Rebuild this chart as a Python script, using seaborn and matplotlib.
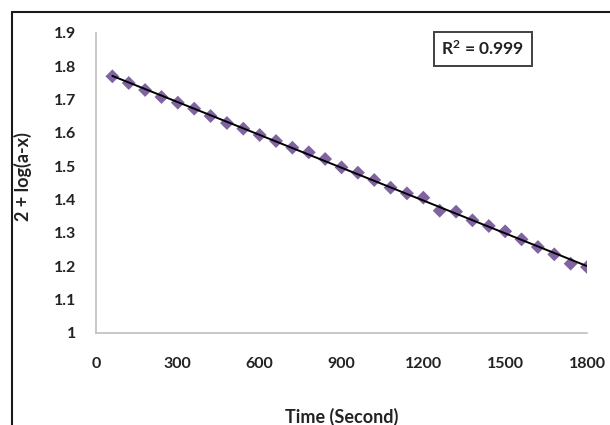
import matplotlib
matplotlib.use("Agg")
import matplotlib.pyplot as plt
from matplotlib.lines import Line2D
import seaborn as sns
import pandas as pd

# ---- data ----
time_s = [60, 120, 180, 240, 300, 360, 420, 480, 540, 600,
          660, 720, 780, 840, 900, 960, 1020, 1080, 1140, 1200,
          1260, 1320, 1380, 1440, 1500, 1560, 1620, 1680, 1740, 1800]
log_val = [1.770, 1.750, 1.729, 1.708, 1.691, 1.673, 1.651, 1.630, 1.613, 1.594,
           1.576, 1.556, 1.542, 1.522, 1.497, 1.481, 1.459, 1.436, 1.419, 1.406,
           1.367, 1.364, 1.338, 1.321, 1.305, 1.281, 1.258, 1.236, 1.208, 1.198]
x_ticks = [0, 300, 600, 900, 1200, 1500, 1800]
y_ticks = [1.0, 1.1, 1.2, 1.3, 1.4, 1.5, 1.6, 1.7, 1.8, 1.9]
y_tick_labels = ["1", "1.1", "1.2", "1.3", "1.4", "1.5", "1.6", "1.7", "1.8", "1.9"]
r2_text = r"R$^{\mathbf{2}}$ = 0.999"
x_label = "Time (Second)"
y_label = "2 + log(a-x)"

df = pd.DataFrame({"t": time_s, "v": log_val})

sns.set_theme(style="white")
plt.rcParams["font.family"] = ["Lato", "DejaVu Sans"]
plt.rcParams["font.weight"] = "bold"
plt.rcParams["mathtext.fontset"] = "custom"
plt.rcParams["mathtext.bf"] = "Lato:bold"
plt.rcParams["mathtext.rm"] = "Lato:bold"
plt.rcParams["mathtext.default"] = "bf"

text_col = "#222222"
fig = plt.figure(figsize=(6.10, 4.25), dpi=100)
ax = fig.add_axes([96 / 610, 1 - 333 / 425, (587 - 96) / 610, 300 / 425])

sns.regplot(data=df, x="t", y="v", ax=ax, ci=None, truncate=True,
            marker="D",
            scatter_kws=dict(s=50, color="#8064A2", edgecolor="none", alpha=1, zorder=2),
            line_kws=dict(color="black", lw=1.4, zorder=3))

ax.set_xlim(0, 1800)
ax.set_ylim(1.0, 1.9)
ax.set_xticks(x_ticks)
ax.set_xticklabels([str(v) for v in x_ticks])
ax.set_yticks(y_ticks)
ax.set_yticklabels(y_tick_labels)
ax.tick_params(axis="both", length=0, labelsize=11.5, labelcolor=text_col)
ax.tick_params(axis="y", pad=14)
ax.tick_params(axis="x", pad=17)
for lab in ax.get_xticklabels() + ax.get_yticklabels():
    lab.set_fontweight("bold")

for side in ["top", "right"]:
    ax.spines[side].set_visible(False)
for side in ["left", "bottom"]:
    ax.spines[side].set_color("#BFBFBF")
    ax.spines[side].set_linewidth(1.2)
ax.grid(False)

ax.set_xlabel(x_label, fontsize=13, fontweight="bold", color=text_col)
ax.set_ylabel(y_label, fontsize=13, fontweight="bold", color=text_col)
ax.xaxis.set_label_coords(0.5, -0.25)
ax.yaxis.set_label_coords(-0.13, 0.52)

ax.text(0.788, 0.947, r2_text, transform=ax.transAxes, ha="center", va="center",
        fontsize=12.5, fontweight="bold", color=text_col,
        bbox=dict(boxstyle="square,pad=0.45", facecolor="white",
                  edgecolor="#404040", linewidth=1.4))

# outer frame (top and left edges visible in the reference)
fig.add_artist(Line2D([12 / 610, 1], [1 - 12 / 425, 1 - 12 / 425],
                      transform=fig.transFigure, color="#1a1a1a", lw=1.5))
fig.add_artist(Line2D([12 / 610, 12 / 610], [0, 1 - 12 / 425],
                      transform=fig.transFigure, color="#1a1a1a", lw=1.5))

fig.savefig("out.png", dpi=100)
